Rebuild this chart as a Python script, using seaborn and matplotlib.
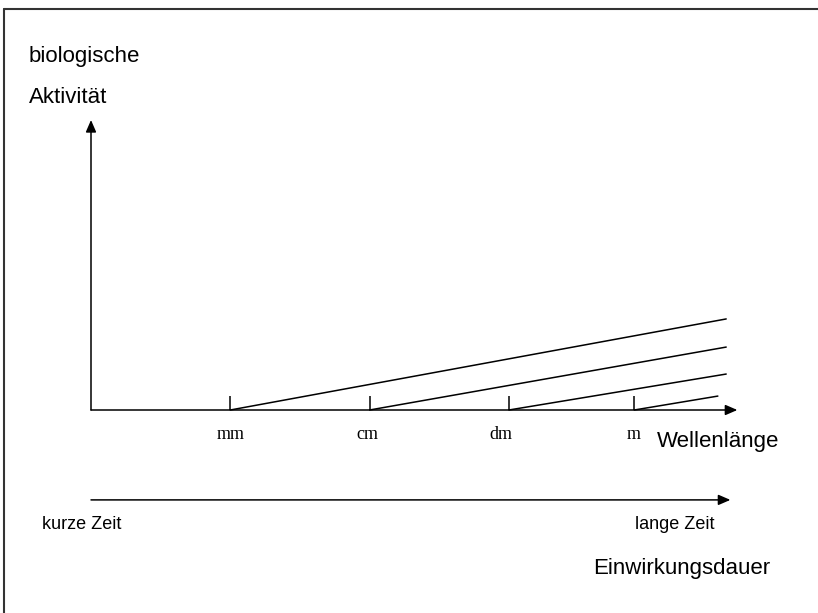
import matplotlib
matplotlib.use("Agg")
import matplotlib.pyplot as plt
import seaborn as sns
import pandas as pd
from matplotlib.lines import Line2D

# ---- data ----
categories = ["mm", "cm", "dm", "m"]
tick_x = [1.0, 2.0, 3.0, 3.9]          # position of each wavelength on the axis
line_end_x = [4.56, 4.56, 4.56, 4.50]  # where each activity line ends
line_end_y = [31.4, 21.7, 12.4, 4.8]   # activity reached at the end
tick_height = 4.8
axis_x_max = 4.64
axis_y_max = 100
time_axis_y = -31
time_axis_x_max = 4.59

sns.set_theme(style="white")
plt.rcParams["font.family"] = ["Liberation Sans", "DejaVu Sans"]
plt.rcParams["text.color"] = "black"

W, H = 818, 613
fig = plt.figure(figsize=(W / 100, H / 100), dpi=100)
ax = fig.add_axes([0, 0, 1, 1])
ax.set_xlim(-91 / 139.3, (W - 91) / 139.3)
ax.set_ylim(-(H - 410) / 2.9, 410 / 2.9)
ax.axis("off")

rows = []
for c, x0, x1, y1 in zip(categories, tick_x, line_end_x, line_end_y):
    rows.append({"x": x0, "y": 0.0, "series": c})
    rows.append({"x": x1, "y": y1, "series": c})
df = pd.DataFrame(rows)
sns.lineplot(data=df, x="x", y="y", hue="series", units="series", estimator=None,
             palette=["black"] * 4, legend=False, lw=1.1, ax=ax, sort=False)

ax.vlines(tick_x, 0, tick_height, color="black", lw=1.1)

arrow = dict(arrowstyle="-|>,head_length=0.6,head_width=0.26", color="black",
             lw=1.1, shrinkA=0, shrinkB=0)
ax.annotate("", xy=(axis_x_max, 0), xytext=(0, 0), arrowprops=arrow)
ax.annotate("", xy=(0, axis_y_max), xytext=(0, 0), arrowprops=arrow)
ax.annotate("", xy=(time_axis_x_max, time_axis_y), xytext=(0, time_axis_y), arrowprops=arrow)


def ftext(px, py, s, **kw):
    fig.text(px / W, 1 - py / H, s, color="black", **kw)


big = 16
ftext(29, 62, "biologische", fontsize=big, va="baseline", ha="left")
ftext(29, 103, "Aktivität", fontsize=big, va="baseline", ha="left")
ftext(657, 447, "Wellenlänge", fontsize=big, va="baseline", ha="left")
ftext(593, 574, "Einwirkungsdauer", fontsize=big, va="baseline", ha="left")
ftext(42, 529, "kurze Zeit", fontsize=13, va="baseline", ha="left")
ftext(635, 529, "lange Zeit", fontsize=13, va="baseline", ha="left")

label_px = [231, 367, 501, 634]
for c, px in zip(categories, label_px):
    ftext(px, 439, c, fontsize=13, va="baseline", ha="center",
          family=["Liberation Serif", "DejaVu Serif"])

# frame (left and top edges)
fig.add_artist(Line2D([4 / W, 4 / W], [0, 1 - 9 / H], color="#333333", lw=1.5,
                      transform=fig.transFigure))
fig.add_artist(Line2D([4 / W, 1], [1 - 9 / H, 1 - 9 / H], color="#333333", lw=1.5,
                      transform=fig.transFigure))

fig.savefig("out.png", dpi=100, facecolor="white")
